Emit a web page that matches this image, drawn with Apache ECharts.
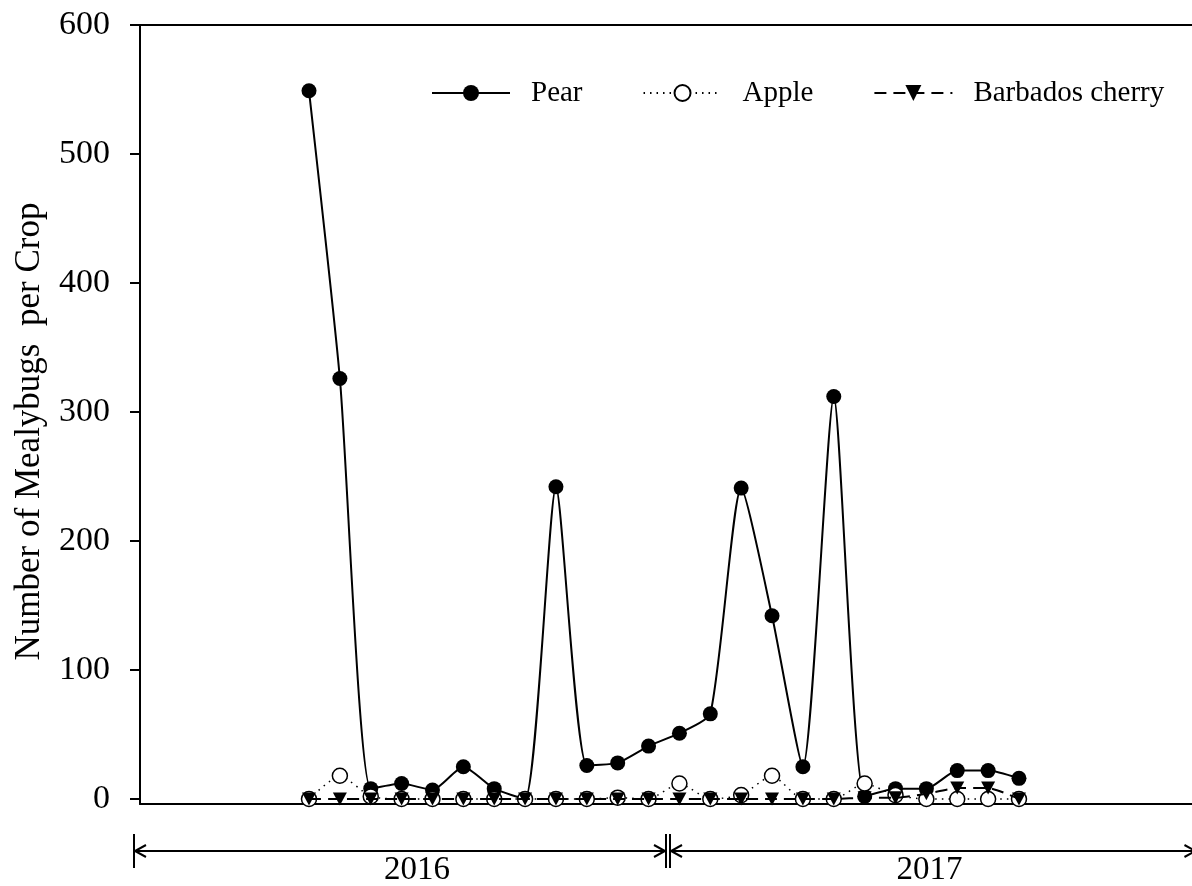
<!DOCTYPE html>
<html>
<head>
<meta charset="utf-8">
<script src="https://cdn.jsdelivr.net/npm/echarts@6/dist/echarts.min.js"></script>
<style>
html,body{margin:0;padding:0;background:#fff;}
#chart{width:1192px;height:886px;}
</style>
</head>
<body>
<div id="chart"></div>
<script>
// ---- data ----
const sampleNo = [1,2,3,4,5,6,7,8,9,10,11,12,13,14,15,16,17,18,19,20,21,22,23,24];
const pear   = [549, 326, 8, 12, 7, 25, 8, 0, 242, 26, 28, 41, 51, 66, 241, 142, 25, 312, 2, 8, 8, 22, 22, 16];
const apple  = [0, 18, 2, 0, 0, 0, 0, 0, 0, 0, 1, 0, 12, 0, 3, 18, 0, 0, 12, 3, 0, 0, 0, 0];
const cherry = [0, 0, 0, 0, 0, 0, 0, 0, 0, 0, 0, 0, 0, 0, 0, 0, 0, 0, 1, 1, 4, 8.5, 8.5, 0];
const yTicks = [0, 100, 200, 300, 400, 500, 600];
const years = ['2016', '2017'];
const yearBounds = [-4.67, 12.63, 29.75];
const yearLabelAt = [4.5, 21.1];

const FONT = '"Liberation Serif", "Times New Roman", serif';
const chart = echarts.init(document.getElementById('chart'), null, {renderer: 'canvas'});

const pairs = a => sampleNo.map((n, i) => [n, a[i]]);
const SMOOTH = 0.2;

const option = {
  backgroundColor: '#fff',
  animation: false,
  textStyle: {fontFamily: FONT, color: '#000'},
  grid: {left: 140, right: 0, top: 25, bottom: 82, containLabel: false, outerBoundsMode: 'none'},
  legend: {
    left: 426, top: 73,
    itemWidth: 78, itemHeight: 20, itemGap: 60,
    textStyle: {fontFamily: FONT, fontSize: 29, color: '#000', padding: [0, 0, 0, 16], lineHeight: 30},
    data: ['Pear', 'Apple', 'Barbados cherry']
  },
  xAxis: [{
    type: 'value', min: -4.475, max: 29.605,
    axisLine: {show: true, onZero: false, lineStyle: {color: '#000', width: 2}},
    axisTick: {show: false}, axisLabel: {show: false}, splitLine: {show: false}
  }, {
    type: 'value', position: 'top', min: -4.475, max: 29.605,
    axisLine: {show: true, onZero: false, lineStyle: {color: '#000', width: 2}},
    axisTick: {show: false}, axisLabel: {show: false}, splitLine: {show: false}
  }],
  yAxis: {
    type: 'value', min: -3.88, max: 600,
    name: 'Number of Mealybugs  per Crop',
    nameLocation: 'middle', nameRotate: 90, nameGap: 93,
    nameTextStyle: {fontFamily: FONT, fontSize: 35, color: '#000', padding: [0, 34, 0, 0]},
    axisLine: {show: true, onZero: false, lineStyle: {color: '#000', width: 2}},
    axisTick: {show: true, inside: false, length: 10, customValues: yTicks, lineStyle: {color: '#000', width: 2}},
    axisLabel: {show: true, margin: 30, customValues: yTicks, fontFamily: FONT, fontSize: 34, color: '#000'},
    splitLine: {show: false}
  },
  series: [{
    name: 'Pear', type: 'line', data: pairs(pear), smooth: SMOOTH,
    symbol: 'circle', symbolSize: 15,
    lineStyle: {color: '#000', width: 2, type: 'solid'},
    itemStyle: {color: '#000', borderColor: '#000', borderWidth: 0},
    z: 2
  }, {
    name: 'Apple', type: 'line', data: pairs(apple), smooth: SMOOTH,
    symbol: 'circle', symbolSize: 15,
    lineStyle: {color: '#000', width: 1.5, type: [1.5, 5]},
    itemStyle: {color: '#fff', borderColor: '#000', borderWidth: 1.5},
    z: 3
  }, {
    name: 'Barbados cherry', type: 'line', data: pairs(cherry), smooth: SMOOTH,
    symbol: 'triangle', symbolRotate: 180, symbolSize: [14, 13],
    lineStyle: {color: '#000', width: 2, type: [12, 7]},
    itemStyle: {color: '#000', borderColor: '#000', borderWidth: 0},
    z: 4
  }]
};
chart.setOption(option);

// ---- year brackets below the axis, positioned through the x scale ----
const px = v => chart.convertToPixel({xAxisIndex: 0}, v);
const Y = 851, BH = 17, AH = 12, AW = 6;
const ls = {stroke: '#000', lineWidth: 2};
const g = [];
for (let k = 0; k < years.length; k++) {
  const boundL = px(yearBounds[k]) + (k > 0 ? 2 : 0);
  const boundR = px(yearBounds[k + 1]) - (k < years.length - 1 ? 2 : 0);
  g.push({type: 'line', shape: {x1: boundL, y1: Y, x2: boundR, y2: Y}, style: ls, silent: true});
  g.push({type: 'line', shape: {x1: boundL, y1: Y - BH, x2: boundL, y2: Y + BH}, style: ls, silent: true});
  g.push({type: 'line', shape: {x1: boundR, y1: Y - BH, x2: boundR, y2: Y + BH}, style: ls, silent: true});
  g.push({type: 'polyline', shape: {points: [[boundL + AH, Y - AW], [boundL + 1, Y], [boundL + AH, Y + AW]]}, style: {stroke: '#000', lineWidth: 2, fill: null}, silent: true});
  g.push({type: 'polyline', shape: {points: [[boundR - AH, Y - AW], [boundR - 1, Y], [boundR - AH, Y + AW]]}, style: {stroke: '#000', lineWidth: 2, fill: null}, silent: true});
  g.push({type: 'text', x: px(yearLabelAt[k]), y: 870,
    style: {text: years[k], font: '33px ' + FONT, fill: '#000', textAlign: 'center', textVerticalAlign: 'middle'}, silent: true});
}
chart.setOption({graphic: {elements: g}});
</script>
</body>
</html>
